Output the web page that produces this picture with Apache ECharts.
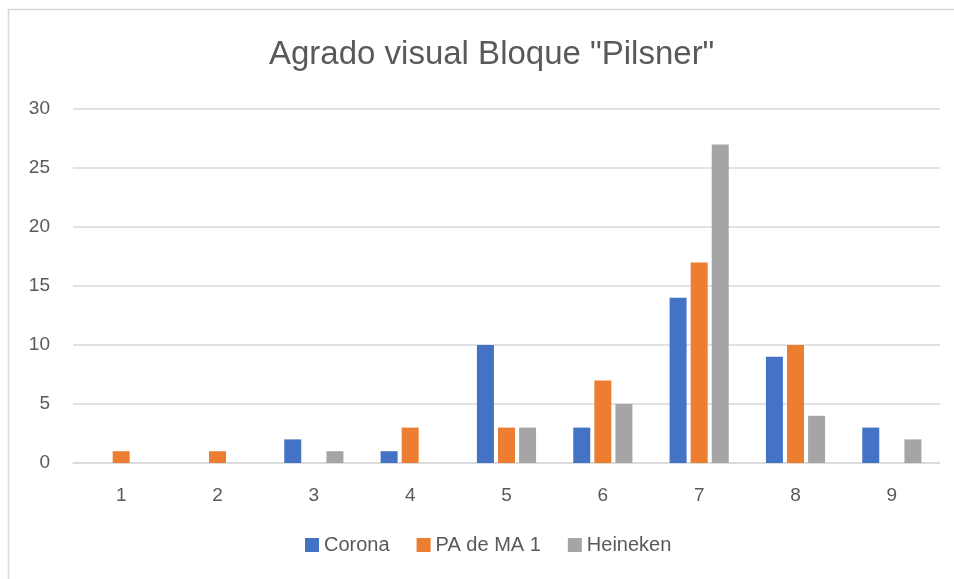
<!DOCTYPE html>
<html>
<head>
<meta charset="utf-8">
<script src="https://cdn.jsdelivr.net/npm/echarts@6/dist/echarts.min.js"></script>
<style>
  html, body { margin: 0; padding: 0; background: #fff; }
  #chart { width: 954px; height: 579px; }
</style>
</head>
<body>
<div id="chart"></div>
<script>
// datos
const categories = ['1', '2', '3', '4', '5', '6', '7', '8', '9']
const corona = [0, 0, 2, 1, 10, 3, 14, 9, 3]
const paDeMa1 = [1, 1, 0, 3, 3, 7, 17, 10, 0]
const heineken = [0, 0, 1, 0, 3, 5, 27, 4, 2]
const seriesNames = ['Corona', 'PA de MA 1', 'Heineken']
const colors = ['#4472C4', '#ED7D31', '#A5A5A5']

const chart = echarts.init(document.getElementById('chart'))
const font = 'Liberation Sans, Arial, sans-serif'

const option = {
  animation: false,
  color: colors,
  title: {
    text: 'Agrado visual Bloque "Pilsner"',
    left: 264,
    top: 33,
    textStyle: { fontSize: 33, fontWeight: 'normal', color: '#595959', fontFamily: font }
  },
  legend: {
    bottom: 19,
    left: 300,
    itemWidth: 14,
    itemHeight: 14,
    itemGap: 27,
    icon: 'rect',
    textStyle: { fontSize: 20, color: '#595959', fontFamily: font }
  },
  grid: { left: 73, right: 14, top: 109, bottom: 116 },
  xAxis: {
    type: 'category',
    data: categories,
    axisLine: { lineStyle: { color: '#d9d9d9', width: 1.5 } },
    axisTick: { show: false },
    axisLabel: { fontSize: 19, color: '#595959', fontFamily: font, margin: 23 }
  },
  yAxis: {
    type: 'value',
    min: 0,
    max: 30,
    interval: 5,
    axisLine: { show: false },
    axisTick: { show: false },
    splitLine: { lineStyle: { color: '#d9d9d9', width: 1.5 } },
    axisLabel: { fontSize: 19, color: '#595959', fontFamily: font, margin: 23 }
  },
  graphic: [{
    type: 'rect',
    shape: { x: 8.5, y: 9.5, width: 1000, height: 700 },
    style: { fill: 'none', stroke: '#d9d9d9', lineWidth: 1.5 },
    silent: true
  }],
  series: [corona, paDeMa1, heineken].map((vals, i) => ({
    name: seriesNames[i],
    type: 'bar',
    data: vals,
    barWidth: 17,
    barGap: '24%'
  }))
}
chart.setOption(option)
</script>
</body>
</html>
